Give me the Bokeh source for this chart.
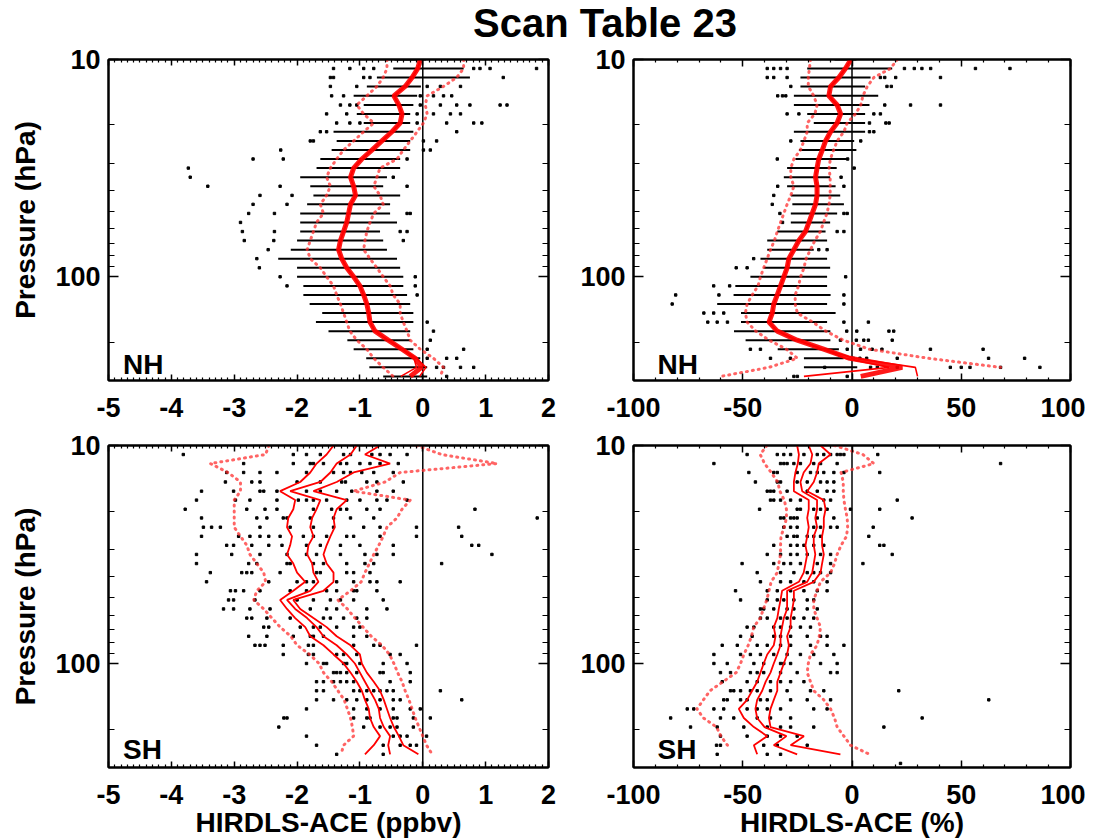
import math
from bokeh.plotting import figure
from bokeh.models import (Range1d, FixedTicker, LinearAxis, LogAxis, Span, Label, Div,
                          CustomJSTickFormatter)
from bokeh.layouts import column, row
from bokeh.embed import file_html
from bokeh.resources import INLINE

nan = float("nan")

# HIRDLS pressure levels (hPa)
levels = [10.0, 11.0, 12.1, 13.3, 14.7, 16.2, 17.8, 19.6, 21.5, 23.7, 26.1, 28.7,
          31.6, 34.8, 38.3, 42.2, 46.4, 51.1, 56.2, 61.9, 68.1, 75.0, 82.5, 90.9,
          100.0, 110.1, 121.2, 133.4, 146.8, 161.6, 177.8, 195.7, 215.4, 237.1, 261.0, 287.3]

# ---------------- NH, ppbv ----------------
nh_ppbv_mean = [-0.04, -0.08, -0.17, -0.28, -0.46, -0.38, -0.33, -0.36, -0.49, -0.65, -0.81, -0.97,
                -1.10, -1.15, -1.10, -1.07, -1.15, -1.18, -1.21, -1.26, -1.31, -1.34, -1.29, -1.21,
                -1.10, -1.00, -0.94, -0.89, -0.86, -0.84, -0.76, -0.55, -0.33, -0.12, -0.02, -0.20]
nh_ppbv_lo = [-0.04, -0.08, -0.17, -0.28, -0.46, -0.38, -0.33, -0.36, -0.49, -0.65, -0.81, -0.97,
              -1.10, -1.15, -1.10, -1.07, -1.15, -1.18, -1.21, -1.26, -1.31, -1.34, -1.29, -1.21,
              -1.10, -1.00, -0.94, -0.89, -0.86, -0.84, -0.76, -0.55, -0.33, -0.14, -0.10, -0.35]
nh_ppbv_hi = [-0.04, -0.08, -0.17, -0.28, -0.46, -0.38, -0.33, -0.36, -0.49, -0.65, -0.81, -0.97,
              -1.10, -1.15, -1.10, -1.07, -1.15, -1.18, -1.21, -1.26, -1.31, -1.34, -1.29, -1.21,
              -1.10, -1.00, -0.94, -0.89, -0.86, -0.84, -0.76, -0.55, -0.33, -0.10, 0.05, -0.05]
nh_ppbv_sd_lo = [-0.57, -0.57, -0.63, -0.73, -0.89, -1.05, -0.94, -0.78, -0.94, -1.10, -1.26, -1.37,
                 -1.47, -1.53, -1.47, -1.53, -1.63, -1.58, -1.69, -1.74, -1.79, -1.84, -1.79, -1.63,
                 -1.53, -1.42, -1.37, -1.31, -1.26, -1.21, -1.16, -1.05, -0.89, -0.78, -0.63, -0.47]
nh_ppbv_sd_hi = [0.65, 0.65, 0.54, 0.33, 0.07, 0.04, 0.07, 0.01, -0.09, -0.20, -0.31, -0.41,
                 -0.68, -0.73, -0.78, -0.68, -0.63, -0.78, -0.84, -0.89, -0.92, -0.94, -0.84, -0.73,
                 -0.63, -0.52, -0.47, -0.36, -0.36, -0.31, -0.25, -0.20, -0.04, 0.17, 0.33, 0.28]
nh_ppbv_band_lo = [-0.45, -0.47, -0.73, -0.89, -1.10, -0.94, -1.05, -0.94, -1.42, -1.37, -1.45, -1.63,
                   -1.69, -1.95, -1.79, -1.74, -1.84, -1.95, -1.95, -1.95, -2.00, -2.10, -2.30, -2.00,
                   -2.00, -1.90, -1.90, -1.80, -1.60, -1.70, -1.50, -1.20, -1.10, -0.90, -0.85, -0.63]
nh_ppbv_band_hi = [0.05, 0.65, 0.75, -0.03, -0.09, -0.15, -0.20, -0.20, -0.15, -0.20, -0.20, -0.36,
                   -0.36, -0.57, -0.63, -0.36, -0.52, -0.52, -0.41, -0.68, -0.63, -0.57, -0.41, -0.36,
                   -0.31, -0.31, -0.25, -0.20, -0.15, -0.15, -0.20, -0.20, -0.15, -0.04, 0.07, 0.07]
nh_ppbv_dots = [
    [], [-1.42, -1.16, -0.94, -0.78, 0.81, 0.91, 1.07, 1.81], [-1.47, -1.42, -0.94, -0.84, 1.28],
    [-1.47, -1.05, 0.07, 0.28, 0.60], [-1.45, -1.26, -0.04, 0.17, 0.33, 0.46],
    [-1.31, -1.16, -1.05, -0.04, 0.28, 0.54, 0.75, 1.23, 1.34], [-1.53, -1.21, -0.09, 0.17, 0.44, 0.60],
    [-1.37, -1.16, -1.00, -0.09, 0.38, 0.81, 0.94], [-1.63, -1.53, 0.54], [-1.79, -1.74, 0.01, 0.22],
    [-2.26, 0.01, 0.12], [-2.70, -2.22, -0.25], [-3.73], [-3.70, -0.47], [-3.42, -2.27, -0.25],
    [-2.59, -2.08], [-2.70, -2.16], [-2.77, -2.36, -0.25, -0.20], [-2.90], [-2.87, -2.36, -0.36, -0.25],
    [-2.84, -2.37, -0.31], [-2.46], [-2.64], [-2.60], [-2.27, -0.12], [-2.16, -0.12], [-0.09], [], [],
    [0.07], [0.17], [0.12], [0.07, 0.65], [0.07, 0.38, 0.54], [0.22, 0.33, 0.60, 0.81], [0.38]]

# ---------------- NH, % ----------------
nh_pct_mean = [-0.5, -3.0, -6.0, -9.8, -10.6, -6.8, -5.2, -6.8, -9.8, -12.1, -13.6, -15.2,
               -16.0, -16.7, -16.0, -16.0, -16.7, -18.2, -19.7, -21.3, -24.3, -26.6, -28.9, -29.7,
               -31.2, -32.7, -34.2, -35.8, -36.5, -38.0, -34.2, -25.1, -13.0, -1.0, 23.0, 4.0]
nh_pct_lo = [-0.5, -3.0, -6.0, -9.8, -10.6, -6.8, -5.2, -6.8, -9.8, -12.1, -13.6, -15.2,
             -16.0, -16.7, -16.0, -16.0, -16.7, -18.2, -19.7, -21.3, -24.3, -26.6, -28.9, -29.7,
             -31.2, -32.7, -34.2, -35.8, -36.5, -38.0, -34.2, -25.1, -13.0, -3.0, 17.0, -22.0]
nh_pct_hi = [-0.5, -3.0, -6.0, -9.8, -10.6, -6.8, -5.2, -6.8, -9.8, -12.1, -13.6, -15.2,
             -16.0, -16.7, -16.0, -16.0, -16.7, -18.2, -19.7, -21.3, -24.3, -26.6, -28.9, -29.7,
             -31.2, -32.7, -34.2, -35.8, -36.5, -38.0, -34.2, -25.1, -13.0, 1.0, 29.0, 30.0]
nh_pct_sd_lo = [-19.0, -19.5, -20.0, -20.0, -17.5, -16.0, -17.0, -20.5, -20.5, -22.0, -23.6, -26.6,
                -28.0, -28.0, -26.6, -28.0, -29.7, -31.2, -32.7, -34.2, -35.5, -37.3, -38.8, -40.4,
                -41.9, -43.0, -45.7, -48.0, -48.8, -48.0, -44.0, -38.0, -30.0, -25.0, -38.0, -60.0]
nh_pct_sd_hi = [20.7, 17.6, 10.0, 7.0, 5.0, 4.0, 1.6, -2.2, -3.7, -6.8, -8.4, -9.9,
                -10.5, -10.0, -10.0, -10.0, -10.5, -11.5, -13.0, -14.5, -17.0, -19.0, -21.0, -22.0,
                -23.5, -24.5, -26.0, -26.0, -25.0, -18.0, -12.0, -4.0, 8.0, 35.0, 68.0, nan]
nh_pct_band_lo = [-8.0, -20.5, -23.6, -23.6, -26.6, -26.6, -20.5, -17.5, -26.6, -23.6, -24.3, -25.9,
                  -29.7, -31.2, -29.7, -28.0, -27.3, -28.0, -28.0, -34.2, -38.8, -38.8, -41.9, -40.4,
                  -46.5, -53.4, -54.2, -61.7, -50.8, -50.8, -54.0, -48.7, -34.0, -22.0, -22.0, nan]
nh_pct_band_hi = [2.0, 18.4, 8.5, 6.0, 12.0, 8.0, 6.0, 6.0, 6.0, 1.0, 2.0, -2.0,
                  -7.0, -10.0, -7.5, -5.4, -3.7, -6.8, -10.0, -12.1, -11.4, -17.5, -11.4, -10.0,
                  -11.4, -11.4, -9.8, -11.4, -7.5, -11.4, -9.9, -9.9, -6.0, -3.8, 2.4, nan]
nh_pct_dots = [
    [], [-38.8, -35.8, -32.7, -29.7, 24.0, 28.5, 32.0, 36.0, 56.5, 72.3],
    [-38.8, -35.8, -29.7, 13.0, 15.0, 20.0, 40.5], [-28.0, 16.0, 18.0], [-34.0, -31.8, -30.3],
    [15.0, 26.8, 40.5], [-29.7, -24.3, 10.0, 13.0], [8.0, 15.5, 17.0], [8.0, 10.0], [-28.0, 4.0],
    [], [-34.2, -2.0], [1.0], [-5.0], [-34.0, -3.7], [-35.8], [-36.5], [-33.0, -3.7, -2.2], [-31.8],
    [-6.8, -3.7], [], [-15.2, -11.4], [-45.0], [-53.0, -48.0], [-2.9], [-63.3, -56.0],
    [-80.7, -60.9, -3.7], [-82.3, -3.7], [-67.8, -63.3, -58.7], [-66.0, -61.7, -57.0, -3.7, 7.5],
    [-2.4, 2.2, 16.9, 19.1], [-5.3, 2.0, 5.4, 7.5, 18.4], [-46.5, -41.9, -2.2, 3.9, 9.2, 13.7, 35.9, 60.0],
    [-37.3, -28.2, 0.6, 3.6, 6.7, 20.7, 62.5, 79.0], [-12.5, 8.5, 11.6, 20.7, 45.0, 50.0, 54.0, 68.0, 86.0],
    [-26.6, -25.0, -2.2]]

# ---------------- SH, ppbv ----------------
sh_ppbv_lo = [-1.42, -1.53, -1.69, -1.79, -1.95, -2.27, -2.03, -2.06, -2.14, -2.16, -2.08, -2.11,
              -2.16, -2.06, -2.00, -1.87, -2.06, -2.27, -2.16, -2.03, -1.87, -1.79, -1.58, -1.42,
              -1.26, -1.15, -1.05, -0.97, -0.92, -0.86, -0.84, -0.78, -0.68, -0.78, -0.92, nan]
sh_ppbv_mean = [-1.05, -1.15, -1.37, -1.47, -1.63, -2.11, -1.63, -1.69, -1.76, -1.79, -1.74, -1.82,
                -1.84, -1.76, -1.74, -1.66, -1.79, -2.16, -2.03, -1.84, -1.69, -1.58, -1.37, -1.21,
                -1.08, -1.00, -0.92, -0.84, -0.76, -0.70, -0.68, -0.62, -0.52, -0.55, -0.52, nan]
sh_ppbv_hi = [-0.68, -0.92, -0.52, -1.10, -1.37, -1.74, -1.21, -1.37, -1.42, -1.40, -1.47, -1.53,
              -1.58, -1.53, -1.42, -1.42, -1.58, -2.06, -1.95, -1.74, -1.53, -1.37, -1.15, -1.00,
              -0.97, -0.89, -0.78, -0.68, -0.62, -0.57, -0.52, -0.46, -0.38, -0.31, -0.07, nan]
sh_ppbv_sd_lo = [-2.45, -2.50, -3.38, -3.10, -2.90, -2.90, -3.00, -3.00, -3.00, -3.00, -2.90, -2.80,
                 -2.75, -2.64, -2.53, -2.50, -2.64, -2.69, -2.53, -2.40, -2.27, -2.10, -2.00, -1.80,
                 -1.65, -1.58, -1.45, -1.35, -1.25, -1.20, -1.15, -1.12, -1.10, -1.26, -1.30, nan]
sh_ppbv_sd_hi = [-0.10, 0.30, 1.18, -0.36, -0.60, -1.10, -0.20, -0.33, -0.41, -0.57, -0.63, -0.70,
                 -0.78, -0.85, -0.92, -0.98, -1.15, -1.35, -1.20, -1.08, -0.95, -0.82, -0.65, -0.53,
                 -0.46, -0.40, -0.33, -0.28, -0.22, -0.17, -0.12, -0.06, 0.00, 0.06, 0.15, nan]
sh_ppbv_dots = [
    [], [-3.81, -2.06, -1.85, -1.63, -1.26, -1.15, -0.81, -0.68, -0.52, -0.25],
    [-2.85, -2.06, -1.79, -1.74, -1.58, -1.31, -1.21, -1.00, -0.84, -0.68, -0.39],
    [-3.12, -2.85, -2.59, -2.32, -1.85, -1.42, -1.26, -1.15, -0.97, -0.78, -0.47],
    [-3.14, -2.72, -2.59, -2.00, -1.63, -1.29, -1.23, -0.89, -0.73, -0.31],
    [-3.52, -3.01, -2.59, -2.53, -2.32, -1.85, -1.63, -1.37, -1.13, -0.73, -0.47],
    [-3.60, -2.98, -2.75, -2.32, -1.98, -1.85, -1.74, -1.53, -1.21, -1.00, -0.73, -0.57, -0.25],
    [-3.78, -2.80, -2.51, -2.32, -1.74, -1.45, -1.31, -1.21, -0.89, -0.68, 0.83],
    [-3.52, -2.64, -2.48, -2.22, -2.16, -1.79, -1.42, -1.15, -0.78, 1.82],
    [-3.49, -3.36, -3.22, -2.59, -2.11, -1.74, -1.42, -0.94, -0.68, -0.10, 0.57],
    [-3.52, -2.93, -2.75, -2.59, -2.45, -2.27, -1.90, -1.74, -1.53, -1.21, -1.10, -0.68, -0.10, 0.62],
    [-3.12, -3.01, -2.72, -2.45, -2.24, -1.85, -1.63, -1.31, -1.00, -0.47, 0.78, 0.89],
    [-3.60, -3.04, -2.59, -2.16, -1.85, -1.69, -1.31, -0.92, -0.73, -0.47, 1.10],
    [-3.60, -2.77, -2.64, -2.16, -2.11, -1.74, -1.58, -1.21, -0.92, -0.78, 0.30],
    [-3.38, -2.88, -2.80, -2.72, -2.27, -1.69, -1.63, -1.21, -1.10, -0.84],
    [-3.44, -2.45, -2.00, -1.85, -1.74, -1.37, -1.10, -0.84, -0.73, -0.36],
    [-3.06, -2.98, -2.85, -2.59, -2.11, -1.85, -1.53, -1.37, -1.10, -1.05, -0.73],
    [-3.09, -3.01, -2.67, -2.00, -1.74, -1.47, -1.31, -1.10, -0.63],
    [-3.17, -3.01, -2.75, -2.43, -1.79, -1.53, -1.37, -0.89, -0.57],
    [-2.80, -2.72, -2.48, -2.11, -1.58, -1.47, -1.26, -1.05, -0.89],
    [-2.53, -2.45, -1.95, -1.74, -1.63, -1.37, -1.10, -1.00],
    [-2.77, -2.48, -2.06, -1.79, -1.74, -1.58, -1.10, -0.89],
    [-2.67, -2.59, -2.51, -2.22, -1.82, -1.74, -1.10, -0.78, -0.68, -0.10],
    [-2.22, -1.82, -1.74, -1.37, -1.26, -1.05, -0.52, -0.36],
    [-1.85, -1.58, -1.53, -1.26, -1.21, -1.00, -0.63, -0.25],
    [-1.42, -1.37, -1.31, -1.21, -1.05, -0.68, -0.63, -0.20],
    [-1.69, -1.58, -1.42, -1.31, -1.21, -1.10, -0.52, -0.20],
    [-1.69, -1.58, -1.10, -1.00, -0.89, -0.78, -0.68, -0.57, -0.47, 0.28],
    [-1.69, -1.42, -1.21, -1.05, -0.89, -0.68, -0.47, -0.36, 0.62],
    [-1.85, -1.10, -0.89, -0.68, -0.47, -0.20, -0.04],
    [-2.21, -2.16, -1.10, -0.89, -0.84, -0.47, -0.41, -0.15, 0.12],
    [-2.29, -0.94, -0.68, -0.52, -0.41, -0.15],
    [-1.85, -0.47, -0.36, -0.25, 0.06],
    [-1.69, -0.63, -0.36, -0.20, -0.10],
    [-1.37, -0.63], []]

# ---------------- SH, % ----------------
sh_pct_lo = [-25.1, -24.3, -24.8, -25.9, -26.6, -26.6, -19.8, -19.8, -20.5, -19.8, -20.5, -21.3,
             -20.5, -21.3, -22.1, -24.3, -32.0, -32.7, -33.5, -34.2, -35.8, -35.0, -35.8, -38.8,
             -40.4, -41.9, -43.4, -45.7, -48.0, -51.8, -49.5, -44.9, -38.8, -44.9, -43.4, nan]
sh_pct_mean = [-19.8, -18.2, -19.0, -22.1, -23.6, -22.8, -16.0, -16.0, -16.8, -16.0, -17.5, -17.5,
               -16.8, -17.5, -18.2, -20.5, -29.7, -29.7, -29.7, -31.2, -32.0, -32.7, -32.7, -34.2,
               -35.8, -37.3, -39.5, -41.1, -43.4, -44.2, -43.4, -40.0, -30.0, -35.8, -25.1, nan]
sh_pct_hi = [-14.4, -9.8, -15.2, -16.0, -17.5, -20.5, -12.9, -12.1, -12.9, -12.9, -13.7, -13.7,
             -12.9, -13.7, -14.4, -17.5, -26.6, -26.6, -27.3, -28.1, -28.1, -29.7, -28.9, -29.7,
             -31.2, -32.7, -34.2, -34.2, -35.8, -37.3, -38.0, -37.3, -22.0, -28.1, -5.3, nan]
sh_pct_sd_lo = [-39.0, -42.0, -40.0, -37.0, -34.0, -33.0, -31.0, -30.0, -30.0, -31.0, -32.5, -32.7,
                -32.7, -33.5, -34.2, -37.0, -38.0, -39.0, -40.5, -42.0, -45.0, -46.0, -47.5, -49.5,
                -51.0, -53.0, -59.0, -65.0, -68.0, -71.0, -68.0, -62.0, -60.0, -57.0, nan, nan]
sh_pct_sd_hi = [-8.0, 5.0, 10.0, -5.0, -4.0, -4.0, -3.7, -3.0, -2.2, -2.0, -2.5, -5.0,
                -6.8, -8.0, -9.8, -14.4, -16.0, -17.5, -17.5, -16.0, -14.4, -15.0, -16.0, -19.0,
                -20.0, -20.5, -19.0, -17.5, -12.9, -9.8, -8.0, -6.8, -3.7, -0.7, 8.0, nan]
sh_pct_dots = [
    [], [-48.0, -34.2, -31.2, -28.1, -22.0, -15.9, -12.9, -9.8, -6.8, -5.3, -3.7, 11.8],
    [-63.2, -32.7, -31.2, -29.7, -26.6, -23.6, -17.5, -14.4, -6.8, 68.0],
    [-47.2, -35.8, -34.2, -25.1, -19.0, -15.9, -12.9, -8.3, -3.7, 12.7],
    [-44.2, -34.2, -32.7, -25.1, -20.5, -14.4, -11.4, -8.3],
    [-38.8, -37.3, -35.8, -29.7, -20.5, -15.9, -11.4, -8.3],
    [-37.3, -35.8, -32.7, -28.1, -23.6, -12.9, -9.8, 20.7],
    [-42.3, -25.1, -23.6, -17.5, -14.4, -11.4, -0.7, 12.7],
    [-32.7, -31.2, -28.1, -26.6, -25.1, -15.9, -8.3, 27.5],
    [-31.2, -28.1, -25.1, -17.5, -14.4, -9.8, -6.8, 9.7],
    [-29.7, -26.6, -25.1, -20.5, -17.5, -14.4, 7.7],
    [-35.8, -28.1, -25.1, -22.0, -17.5, -12.9, 12.7, 14.6],
    [-38.8, -32.7, -28.1, -25.1, -20.5, -14.4, -9.8, 18.4],
    [-50.3, -35.8, -31.2, -28.1, -23.6, -15.9, -9.8, 5.0],
    [-43.4, -32.7, -26.6, -20.5, -17.5, -14.4, -9.8],
    [-41.9, -32.7, -28.1, -22.0, -17.5, -11.4],
    [-53.3, -38.8, -34.2, -28.1, -22.0, -15.9, -11.4],
    [-51.0, -38.8, -34.2, -31.2, -26.6, -20.5, -17.5],
    [-41.9, -40.4, -35.8, -29.7, -26.6, -20.5, -15.9],
    [-41.9, -38.8, -32.7, -29.7, -26.6, -22.0, -17.5],
    [-48.0, -44.9, -35.8, -32.7, -28.1, -23.6, -19.0],
    [-51.0, -45.7, -35.8, -32.7, -28.1, -20.5, -14.4, -11.4],
    [-59.4, -52.5, -43.4, -38.8, -32.7, -28.1, -19.0, -11.4, -3.7],
    [-63.2, -51.0, -46.5, -41.9, -35.8, -29.7, -23.6, -17.5, -8.3],
    [-63.2, -57.1, -44.9, -40.4, -32.7, -31.2, -28.1, -14.4, -6.8],
    [-60.2, -55.6, -46.5, -43.4, -40.4, -32.7, -25.1, -9.8, -6.8],
    [-59.4, -48.0, -43.4, -37.3, -32.7, -28.1, -22.0],
    [-55.6, -54.1, -51.0, -46.5, -43.4, -37.3, -29.7, -19.0, -12.9, 21.4],
    [-58.7, -57.1, -51.0, -48.0, -41.9, -38.8, -28.1, -20.5, -9.8, 62.6],
    [-75.4, -72.4, -63.2, -58.7, -48.0, -43.4, -38.8, -32.7, -17.5, -11.4],
    [-83.0, -60.2, -54.1, -43.4, -37.3, -28.1, 32.1],
    [-73.9, -61.7, -49.5, -38.8, -32.7, -28.1, -17.5, 14.6],
    [-60.2, -48.0, -38.8, -32.7, -25.1],
    [-62.0, -60.2, -40.4, -34.2, -20.5],
    [-61.7, -38.8, -32.7],
    [22.2]]

# tick definitions
ppbv_ticks = [-5, -4, -3, -2, -1, 0, 1, 2]
ppbv_minor = [round(-5 + i * 0.1, 2) for i in range(71) if i % 10]
pct_ticks = [-100, -50, 0, 50, 100]
pct_minor = [v for v in range(-100, 101, 10) if v % 50]
p_ticks = [10, 100]
p_minor = [20, 30, 40, 50, 60, 70, 80, 90, 200, 300]

FONT = "Liberation Sans"
RED = "#ff0000"


def finite_xy(xs):
    """Keep only the levels where a value exists."""
    px, py = [], []
    for v, p in zip(xs, levels):
        if v is not None and not math.isnan(v):
            px.append(v)
            py.append(p)
    return px, py


def style_axis(ax, maj_in, min_in, labels=True):
    ax.axis_line_color = "black"
    ax.axis_line_width = 2
    ax.major_tick_in = maj_in
    ax.major_tick_out = 0
    ax.minor_tick_in = min_in
    ax.minor_tick_out = 0
    ax.major_tick_line_width = 1.5
    ax.minor_tick_line_width = 1.2
    ax.major_tick_line_color = "black"
    ax.minor_tick_line_color = "black"
    if labels:
        ax.major_label_text_font = FONT
        ax.major_label_text_font_style = "bold"
        ax.major_label_text_font_size = "27px"
        ax.major_label_text_color = "black"
        ax.formatter = CustomJSTickFormatter(code="return String(tick);")
    else:
        ax.major_label_text_font_size = "1px"
        ax.major_label_text_color = None
        ax.major_label_standoff = 0


def panel(kind, mean, lo, hi, sd_lo, sd_hi, dots, band_lo, band_hi, tag, tag_x, tag_y,
          thick, ylabel, xlabel, fw, fh, bl, br, bt, bb):
    if kind == "ppbv":
        xr, xt, xm, xin, xmin_in = (-5, 2), ppbv_ticks, ppbv_minor, 6, 3
    else:
        xr, xt, xm, xin, xmin_in = (-100, 100), pct_ticks, pct_minor, 7, 3
    p = figure(x_range=Range1d(*xr), y_range=Range1d(300, 10), y_axis_type="log",
               frame_width=fw, frame_height=fh, min_border_left=bl, min_border_right=br,
               min_border_top=bt, min_border_bottom=bb, output_backend="svg",
               toolbar_location=None, background_fill_color="white", border_fill_color="white")
    p.xgrid.visible = False
    p.ygrid.visible = False
    p.outline_line_color = "black"
    p.outline_line_width = 2

    p.xaxis.ticker = FixedTicker(ticks=xt, minor_ticks=xm)
    p.yaxis.ticker = FixedTicker(ticks=p_ticks, minor_ticks=p_minor)
    style_axis(p.xaxis[0], xin, xmin_in)
    style_axis(p.yaxis[0], 10, 6)
    p.xaxis.major_label_standoff = 17
    p.yaxis.major_label_standoff = 8
    for ax, lbl in ((p.xaxis[0], xlabel), (p.yaxis[0], ylabel)):
        if lbl:
            ax.axis_label = lbl
            ax.axis_label_text_font = FONT
            ax.axis_label_text_font_style = "bold"
            ax.axis_label_text_font_size = "28px"
            ax.axis_label_text_color = "black"
    p.yaxis.axis_label_standoff = 11
    p.xaxis.axis_label_standoff = 0

    top = LinearAxis(ticker=FixedTicker(ticks=xt, minor_ticks=xm))
    style_axis(top, xin, xmin_in, labels=False)
    p.add_layout(top, "above")
    right = LogAxis(ticker=FixedTicker(ticks=p_ticks, minor_ticks=p_minor))
    style_axis(right, 10, 6, labels=False)
    p.add_layout(right, "right")

    p.add_layout(Span(location=0, dimension="height", line_color="black",
                      line_width=1.5, level="underlay"))

    if band_lo is not None:
        b0, b1, by = [], [], []
        for a, b, lev in zip(band_lo, band_hi, levels):
            if not (math.isnan(a) or math.isnan(b)):
                b0.append(a)
                b1.append(b)
                by.append(lev)
        p.segment(x0=b0, y0=by, x1=b1, y1=by, line_color="black", line_width=2)
    dx, dy = [], []
    for k, vals in enumerate(dots):
        for v in vals:
            dx.append(v)
            dy.append(levels[k])
    p.scatter(x=dx, y=dy, marker="square", size=2.4, color="black")

    for arr in (sd_lo, sd_hi):
        x, y = finite_xy(arr)
        p.line(x=x, y=y, line_color="#ff3030", line_alpha=0.75,
               line_width=3, line_dash="1 5", line_cap="round")
    if thick:
        x, y = finite_xy(mean)
        p.line(x=x, y=y, line_color=RED, line_alpha=0.9, line_width=5)
        for arr in (lo, hi):
            x, y = finite_xy(arr)
            p.line(x=x, y=y, line_color=RED, line_width=1.6)
    else:
        for arr in (lo, mean, hi):
            x, y = finite_xy(arr)
            p.line(x=x, y=y, line_color=RED, line_width=1.8)

    p.add_layout(Label(x=tag_x, y=tag_y, text=tag, text_font=FONT, text_font_style="bold",
                       text_font_size="28px", text_color="black", text_baseline="alphabetic"))
    return p


p1 = panel("ppbv", nh_ppbv_mean, nh_ppbv_lo, nh_ppbv_hi, nh_ppbv_sd_lo, nh_ppbv_sd_hi, nh_ppbv_dots,
           nh_ppbv_band_lo, nh_ppbv_band_hi, "NH", -4.77, 254, True, "Pressure (hPa)", None,
           440, 321, 108, 10, 16, 45)
p2 = panel("pct", nh_pct_mean, nh_pct_lo, nh_pct_hi, nh_pct_sd_lo, nh_pct_sd_hi, nh_pct_dots,
           nh_pct_band_lo, nh_pct_band_hi, "NH", -89, 254, True, None, None,
           437, 321, 75, 15, 16, 45)
p3 = panel("ppbv", sh_ppbv_mean, sh_ppbv_lo, sh_ppbv_hi, sh_ppbv_sd_lo, sh_ppbv_sd_hi, sh_ppbv_dots,
           None, None, "SH", -4.77, 247, False, "Pressure (hPa)", "HIRDLS-ACE (ppbv)",
           440, 322, 108, 10, 20, 62)
p4 = panel("pct", sh_pct_mean, sh_pct_lo, sh_pct_hi, sh_pct_sd_lo, sh_pct_sd_hi, sh_pct_dots,
           None, None, "SH", -89, 247, False, None, "HIRDLS-ACE (%)",
           437, 322, 75, 15, 20, 62)

title = Div(text='<div style="width:1085px;height:43px;box-sizing:border-box;padding-left:125px;'
                 'padding-top:4px;text-align:center;font-family:\'Liberation Sans\';font-weight:bold;'
                 'font-size:40px;line-height:39px;color:black;white-space:nowrap">Scan Table 23</div>',
            width=1085, height=43, margin=0)

layout = column(title, row(p1, p2), row(p3, p4))
open("out.html", "w").write(file_html(layout, INLINE))
